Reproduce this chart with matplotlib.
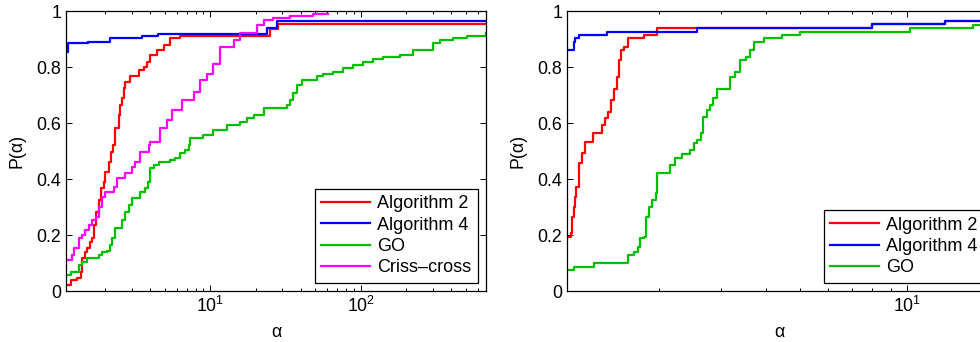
"""
Performance profiles P(alpha) for two test sets, side by side.
"""

import numpy as np
import matplotlib
matplotlib.use("Agg")
import matplotlib.pyplot as plt
from matplotlib.ticker import FixedLocator, FixedFormatter, LogLocator

plt.rcParams["font.family"] = ["Liberation Sans", "DejaVu Sans"]
plt.rcParams["mathtext.fontset"] = "custom"
plt.rcParams["mathtext.rm"] = "Liberation Sans"
plt.rcParams["mathtext.it"] = "Liberation Sans:italic"

# ── data: left panel ───────────────────────────────────────────────────────────
L_A2_ALPHA = [1.10, 1.18, 1.30, 1.39, 1.41, 1.46, 1.52, 1.60, 1.64, 1.68, 1.75,
              1.82, 1.88, 1.96, 2.01, 2.11, 2.19, 2.26, 2.34, 2.46, 2.50, 2.59,
              2.66, 2.73, 2.94, 3.34, 3.61, 3.80, 4.00, 4.43, 4.90, 5.43, 6.33,
              25.0, 28.2, 680]
L_A2_P = [0.02, 0.039, 0.048, 0.069, 0.117, 0.14, 0.152, 0.176, 0.188, 0.236,
          0.283, 0.325, 0.367, 0.39, 0.426, 0.462, 0.497, 0.521, 0.581, 0.629,
          0.664, 0.688, 0.724, 0.748, 0.769, 0.789, 0.801, 0.819, 0.843, 0.861,
          0.879, 0.902, 0.91, 0.935, 0.953, 0.953]

L_A4_ALPHA = [1.10, 1.13, 1.55, 2.17, 3.5, 4.5, 24.0, 27.8, 680]
L_A4_P = [0.855, 0.884, 0.89, 0.902, 0.91, 0.919, 0.94, 0.965, 0.965]

L_GO_ALPHA = [1.10, 1.18, 1.34, 1.41, 1.52, 1.82, 1.91, 2.06, 2.15, 2.23, 2.34,
              2.59, 2.73, 2.87, 3.02, 3.43, 3.70, 3.84, 4.00, 4.21, 4.54, 5.43,
              5.86, 6.33, 6.82, 7.18, 7.37, 9.0, 10.5, 12.9, 15.8, 17.5, 19.4,
              22.6, 32.3, 34.0, 35.7, 37.6, 40.6, 51.0, 56.5, 65.8, 76.7, 89.3,
              104, 121, 141, 182, 224, 303, 336, 411, 505, 680]
L_GO_P = [0.057, 0.069, 0.093, 0.105, 0.117, 0.129, 0.138, 0.143, 0.164, 0.188,
          0.224, 0.254, 0.283, 0.307, 0.331, 0.355, 0.367, 0.39, 0.438, 0.45,
          0.462, 0.468, 0.476, 0.492, 0.504, 0.521, 0.545, 0.557, 0.575, 0.593,
          0.605, 0.617, 0.629, 0.652, 0.664, 0.682, 0.706, 0.736, 0.754, 0.768,
          0.775, 0.783, 0.795, 0.807, 0.819, 0.827, 0.837, 0.843, 0.861, 0.885,
          0.896, 0.902, 0.911, 0.92]

L_CC_ALPHA = [1.10, 1.21, 1.24, 1.34, 1.41, 1.48, 1.56, 1.64, 1.73, 1.82, 1.91,
              2.01, 2.28, 2.40, 2.73, 3.02, 3.18, 3.43, 3.90, 4.00, 4.66, 5.16,
              5.57, 6.49, 7.74, 8.58, 9.5, 10.5, 11.6, 14.3, 15.8, 20.4, 22.6,
              26.3, 34.0, 48.5, 61.0]
L_CC_P = [0.111, 0.129, 0.152, 0.188, 0.2, 0.218, 0.236, 0.254, 0.265, 0.301,
          0.337, 0.355, 0.372, 0.402, 0.42, 0.444, 0.462, 0.497, 0.521, 0.533,
          0.581, 0.611, 0.646, 0.682, 0.712, 0.754, 0.774, 0.812, 0.872, 0.896,
          0.92, 0.95, 0.968, 0.975, 0.982, 0.99, 0.99]

# ── data: right panel ──────────────────────────────────────────────────────────
R_A2_ALPHA = [1.10, 1.13, 1.14, 1.15, 1.16, 1.17, 1.19, 1.21, 1.24, 1.30, 1.38,
              1.41, 1.44, 1.46, 1.49, 1.52, 1.54, 1.56, 1.59, 1.63, 1.81, 1.98,
              7.96, 12.8, 20]
R_A2_P = [0.194, 0.206, 0.265, 0.301, 0.337, 0.372, 0.456, 0.492, 0.533, 0.563,
          0.593, 0.617, 0.64, 0.682, 0.723, 0.765, 0.825, 0.861, 0.873, 0.902,
          0.914, 0.938, 0.954, 0.965, 0.965]

R_A4_ALPHA = [1.10, 1.14, 1.15, 1.16, 1.19, 1.43, 2.56, 7.96, 12.8, 20]
R_A4_P = [0.861, 0.861, 0.89, 0.902, 0.914, 0.926, 0.938, 0.954, 0.965, 0.965]

R_GO_ALPHA = [1.10, 1.15, 1.31, 1.64, 1.70, 1.74, 1.77, 1.81, 1.84, 1.87, 1.91,
              1.96, 1.98, 2.15, 2.22, 2.32, 2.45, 2.51, 2.56, 2.62, 2.67, 2.73,
              2.79, 2.84, 2.92, 3.18, 3.28, 3.39, 3.51, 3.62, 3.70, 3.95, 4.45,
              5.0, 10.2, 15.4, 20]
R_GO_P = [0.075, 0.087, 0.099, 0.129, 0.14, 0.158, 0.188, 0.194, 0.265, 0.301,
          0.325, 0.349, 0.42, 0.45, 0.474, 0.489, 0.504, 0.527, 0.539, 0.563,
          0.623, 0.646, 0.664, 0.688, 0.723, 0.765, 0.783, 0.825, 0.837, 0.861,
          0.89, 0.902, 0.914, 0.926, 0.938, 0.95, 0.95]

Y_TICKS = [0, 0.2, 0.4, 0.6, 0.8, 1.0]
Y_LABELS = ["0", "0.2", "0.4", "0.6", "0.8", "1"]

RED, BLUE, GREEN, MAGENTA = "#ff0000", "#0000ff", "#00c000", "#ff00ff"
FS = 12.8
LEG_FS = 13
LW = 1.6

W, H = 980, 342


def px_axes(fig, x0, x1, y0, y1):
    # pixel box (top-left origin) -> figure fraction
    return fig.add_axes([x0 / W, (H - y1) / H, (x1 - x0) / W, (y1 - y0) / H])


def style_axes(ax, xlim):
    ax.set_xscale("log")
    ax.set_xlim(*xlim)
    ax.set_ylim(0, 1)
    ax.yaxis.set_major_locator(FixedLocator(Y_TICKS))
    ax.yaxis.set_major_formatter(FixedFormatter(Y_LABELS))
    ax.xaxis.set_major_locator(LogLocator(base=10))
    ax.xaxis.set_minor_locator(LogLocator(base=10, subs=np.arange(2, 10)))
    ax.tick_params(which="both", direction="in", top=True, right=True,
                   labelsize=FS, width=0.7, colors="black")
    ax.tick_params(which="major", length=4)
    ax.tick_params(which="minor", length=2.5)
    for s in ax.spines.values():
        s.set_linewidth(0.9)
    ax.set_xlabel("α", fontsize=FS, labelpad=6)
    ax.set_ylabel("P(α)", fontsize=FS, labelpad=8)


def draw(ax, series):
    for xs, ys, col, lab in series:
        ax.step(xs, ys, where="post", color=col, lw=LW, label=lab)
    leg = ax.legend(loc="lower right", fontsize=LEG_FS, fancybox=False,
                    edgecolor="black", framealpha=1, handlelength=2.7,
                    handletextpad=0.4, labelspacing=0.24, borderpad=0.36,
                    borderaxespad=0.45)
    leg.get_frame().set_linewidth(0.9)


fig = plt.figure(figsize=(W / 100, H / 100), dpi=100)

ax1 = px_axes(fig, 66, 486, 11, 291)
style_axes(ax1, (1.10, 680))
draw(ax1, [
    (L_A2_ALPHA, L_A2_P, RED, "Algorithm 2"),
    (L_A4_ALPHA, L_A4_P, BLUE, "Algorithm 4"),
    (L_GO_ALPHA, L_GO_P, GREEN, "GO"),
    (L_CC_ALPHA, L_CC_P, MAGENTA, "Criss\u2013cross"),
])

ax2 = px_axes(fig, 567, 992, 11, 291)
style_axes(ax2, (1.10, 17.4))
draw(ax2, [
    (R_A2_ALPHA, R_A2_P, RED, "Algorithm 2"),
    (R_A4_ALPHA, R_A4_P, BLUE, "Algorithm 4"),
    (R_GO_ALPHA, R_GO_P, GREEN, "GO"),
])

fig.savefig("out.png", dpi=100)
